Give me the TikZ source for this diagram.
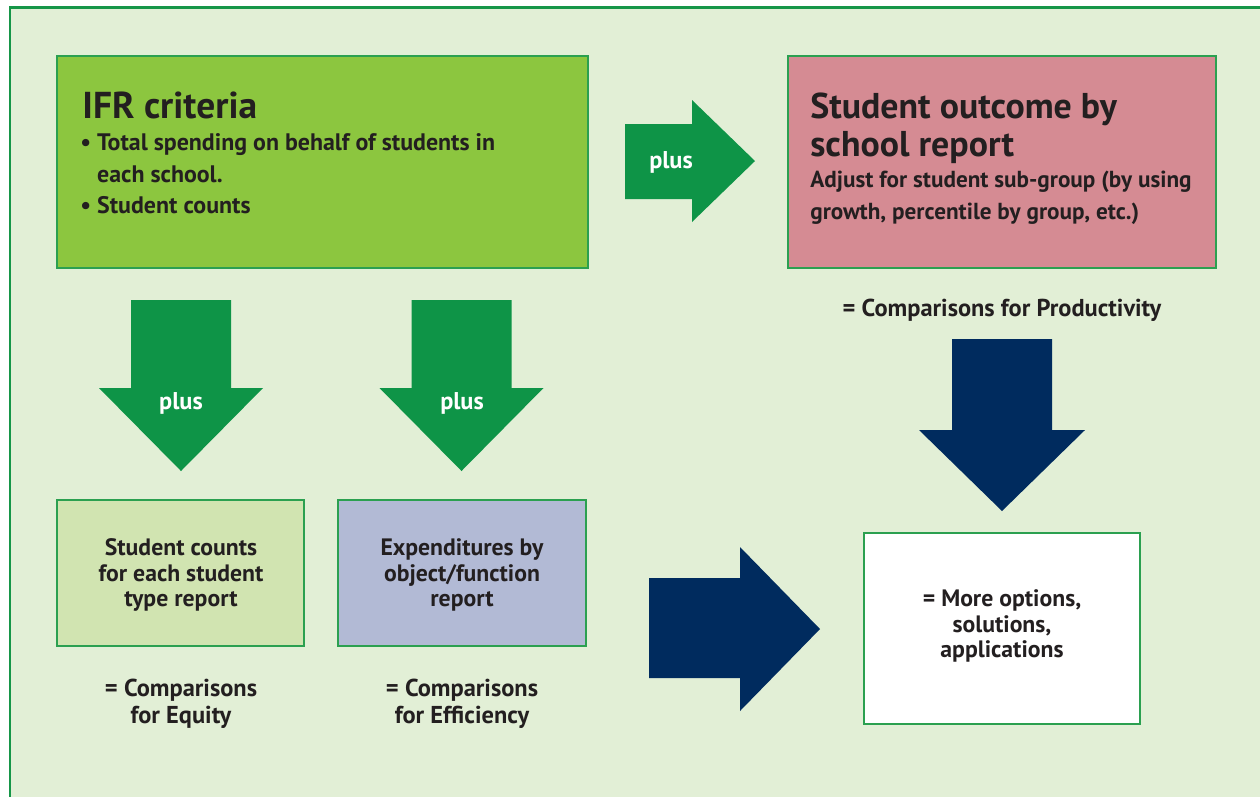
\documentclass[tikz,border=0pt]{standalone}
\usepackage{fontspec}
\setmainfont{PT Sans}
\definecolor{framegreen}{RGB}{22,150,72}
\definecolor{bggreen}{RGB}{226,239,214}
\definecolor{boxline}{RGB}{43,160,80}
\definecolor{ifrgreen}{RGB}{140,198,63}
\definecolor{rose}{RGB}{213,139,147}
\definecolor{paleleaf}{RGB}{209,228,177}
\definecolor{lavender}{RGB}{178,186,213}
\definecolor{arrowgreen}{RGB}{14,148,71}
\definecolor{navy}{RGB}{0,43,94}
\definecolor{ink}{RGB}{35,31,32}
\tikzset{
  report/.style={rectangle,draw=boxline,line width=0.03cm},
  txt/.style={text=ink,font=\bfseries\fontsize{13.5}{14.6}\selectfont,align=center},
  result/.style={txt,font=\bfseries\fontsize{13.9}{15.3}\selectfont},
  plus/.style={text=white,font=\bfseries\fontsize{13.8}{15}\selectfont}
}
\begin{document}
\begin{tikzpicture}[inner sep=0mm]

\useasboundingbox (0,0) rectangle (25.2,-15.92);
\clip (0,0) rectangle (25.2,-15.92);
\fill[white] (0,0) rectangle (25.2,-15.92);
\filldraw[draw=framegreen,fill=bggreen,line width=0.06cm] (0.2,-0.14) rectangle (25.6,-16.4);

\node[report,fill=ifrgreen,minimum width=10.62cm,minimum height=4.24cm] (ifr) at (6.45,-3.24) {};
\node[report,fill=rose,minimum width=8.56cm,minimum height=4.24cm] (outcome) at (20.04,-3.24) {};
\node[report,fill=paleleaf,minimum width=4.94cm,minimum height=2.92cm] (counts) at (3.61,-11.46) {};
\node[report,fill=lavender,minimum width=4.96cm,minimum height=2.92cm] (expend) at (9.24,-11.46) {};
\node[report,fill=white,minimum width=5.52cm,minimum height=3.82cm] (options) at (20.04,-12.57) {};

\fill[arrowgreen] (12.5,-2.48) -- (13.84,-2.48) -- (13.84,-2.0) -- (15.1,-3.22)
  -- (13.84,-4.44) -- (13.84,-3.98) -- (12.5,-3.98) -- cycle;
\foreach \x in {3.62,9.23}
  \fill[arrowgreen] (\x-1,-6.0) -- (\x+1,-6.0) -- (\x+1,-7.76) -- (\x+1.64,-7.76)
    -- (\x,-9.42) -- (\x-1.64,-7.76) -- (\x-1,-7.76) -- cycle;
\fill[navy] (19.04,-6.78) -- (21.04,-6.78) -- (21.04,-8.6) -- (21.7,-8.6)
  -- (20.04,-10.22) -- (18.38,-8.6) -- (19.04,-8.6) -- cycle;
\fill[navy] (12.98,-11.56) -- (14.8,-11.56) -- (14.8,-10.94) -- (16.4,-12.58)
  -- (14.8,-14.22) -- (14.8,-13.56) -- (12.98,-13.56) -- cycle;

\node[plus] (p0) at (13.42,-3.24) {plus};
\node[plus] (p1) at (3.62,-8.06) {plus};
\node[plus] (p2) at (9.24,-8.06) {plus};

\node[txt,anchor=base west,font=\bfseries\fontsize{21.3}{24}\selectfont] (ifrhead) at (1.64,-2.36) {IFR criteria};
\node[txt,anchor=north west,align=left,font=\bfseries\fontsize{13.6}{18.1}\selectfont] (ifrlist) at (1.6,-2.66)
  {• Total spending on behalf of students in\\
   \phantom{• }each school.\\
   • Student counts};

\node[txt,anchor=north west,align=left,font=\bfseries\fontsize{20.4}{21.5}\selectfont] (outhead) at (16.2,-1.86)
  {Student outcome by\\school report};
\node[txt,anchor=north west,align=left,font=\bfseries\fontsize{13.2}{18.1}\selectfont] (outsub) at (16.2,-3.42)
  {Adjust for student sub-group (by using\\growth, percentile by group, etc.)};

\node[txt] (countstxt) at (3.62,-11.5) {Student counts\\for each student\\type report};
\node[txt] (expendtxt) at (9.24,-11.5) {Expenditures by\\object/function\\report};
\node[txt] (optionstxt) at (20.04,-12.52) {= More options,\\solutions,\\applications};

\node[result] (equity) at (3.62,-14.08) {= Comparisons\\for Equity};
\node[result] (efficiency) at (9.24,-14.08) {= Comparisons\\for Efficiency};
\node[result] (productivity) at (20.04,-6.2) {= Comparisons for Productivity};

\end{tikzpicture}
\end{document}
